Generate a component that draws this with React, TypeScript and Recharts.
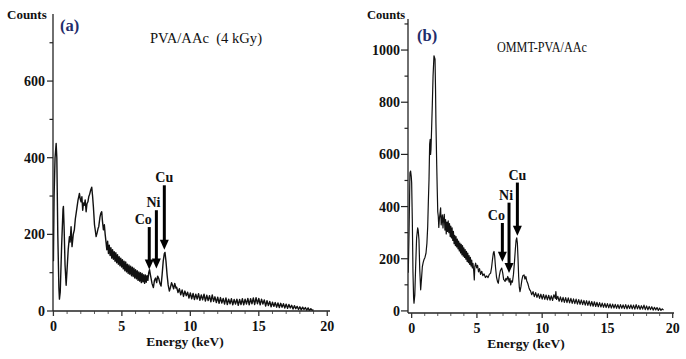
import React from 'react';
import { LineChart, Line, XAxis, YAxis, ReferenceLine } from 'recharts';

// Panel (a): PVA/AAc (4 kGy) — [energy keV, counts]
const spectrumA: [number, number][] = [
  [0, 130], [0.05, 300], [0.12, 400], [0.2, 437], [0.25, 400], [0.32, 200], [0.4, 60], [0.44, 31], [0.5, 50],
  [0.6, 170], [0.7, 265], [0.73, 273], [0.78, 220], [0.85, 120], [0.93, 67], [1.0, 110], [1.08, 160],
  [1.17, 194], [1.22, 180], [1.29, 220], [1.36, 168], [1.45, 200], [1.53, 212], [1.6, 240], [1.66, 255],
  [1.72, 270], [1.8, 290], [1.86, 300], [1.9, 307], [1.96, 292], [2.02, 285], [2.08, 298], [2.14, 263],
  [2.2, 282], [2.26, 276], [2.32, 290], [2.39, 259], [2.45, 280], [2.52, 285], [2.58, 298], [2.65, 305],
  [2.72, 315], [2.8, 323], [2.86, 300], [2.92, 272], [3.0, 225], [3.06, 210], [3.12, 194], [3.2, 205],
  [3.26, 215], [3.31, 220], [3.4, 245], [3.46, 255], [3.53, 259], [3.58, 235], [3.65, 212], [3.72, 225],
  [3.78, 200], [3.85, 177], [3.9, 160], [3.96, 182], [4.02, 150], [4.08, 172], [4.14, 145], [4.2, 165],
  [4.26, 138], [4.32, 160], [4.38, 135], [4.44, 155], [4.5, 130], [4.56, 152], [4.62, 126], [4.68, 147],
  [4.74, 122], [4.8, 142], [4.86, 118], [4.92, 138], [4.98, 115], [5.04, 134], [5.1, 110], [5.16, 130],
  [5.22, 105], [5.28, 128], [5.34, 102], [5.4, 122], [5.46, 98], [5.52, 120], [5.58, 96], [5.64, 117],
  [5.7, 92], [5.76, 114], [5.82, 90], [5.88, 112], [5.94, 86], [6.0, 108], [6.06, 84], [6.12, 105],
  [6.18, 80], [6.24, 102], [6.3, 78], [6.36, 100], [6.42, 74], [6.48, 98], [6.54, 76], [6.6, 95],
  [6.66, 72], [6.72, 94], [6.78, 75], [6.84, 92], [6.9, 80], [6.96, 100], [7.02, 108], [7.08, 95],
  [7.14, 84], [7.2, 72], [7.3, 61], [7.38, 80], [7.46, 86], [7.54, 74], [7.61, 91], [7.7, 84],
  [7.78, 72], [7.86, 65], [7.94, 95], [8.02, 130], [8.1, 150], [8.15, 153], [8.22, 130], [8.3, 95],
  [8.38, 68], [8.47, 52], [8.55, 62], [8.63, 74], [8.71, 66], [8.78, 58], [8.86, 72], [8.95, 60],
  [9.0, 62], [9.1, 48], [9.2, 58], [9.3, 42], [9.4, 55], [9.5, 38], [9.6, 52], [9.7, 40], [9.8, 49],
  [9.9, 34], [10.0, 47], [10.1, 32], [10.2, 46], [10.3, 30], [10.4, 44], [10.5, 31], [10.6, 45],
  [10.7, 28], [10.8, 42], [10.9, 29], [11.0, 44], [11.1, 26], [11.2, 41], [11.3, 27], [11.4, 40],
  [11.5, 24], [11.6, 42], [11.7, 25], [11.8, 37], [11.9, 22], [12.0, 36], [12.1, 20], [12.2, 35],
  [12.3, 21], [12.4, 33], [12.5, 18], [12.6, 34], [12.7, 17], [12.8, 31], [12.9, 19], [13.0, 32],
  [13.1, 16], [13.2, 30], [13.3, 18], [13.4, 31], [13.5, 15], [13.6, 30], [13.7, 17], [13.8, 32],
  [13.9, 16], [14.0, 31], [14.1, 18], [14.2, 33], [14.3, 16], [14.4, 32], [14.5, 19], [14.6, 34],
  [14.7, 17], [14.8, 35], [14.9, 19], [15.0, 33], [15.1, 16], [15.2, 31], [15.3, 18], [15.4, 29],
  [15.5, 13], [15.6, 27], [15.7, 14], [15.8, 25], [15.9, 11], [16.0, 23], [16.1, 12], [16.2, 22],
  [16.3, 10], [16.4, 21], [16.5, 9], [16.6, 20], [16.7, 10], [16.8, 19], [16.9, 8], [17.0, 18],
  [17.1, 7], [17.2, 17], [17.3, 8], [17.4, 15], [17.5, 5], [17.6, 14], [17.7, 6], [17.8, 12],
  [17.9, 4], [18.0, 11], [18.1, 3], [18.2, 10], [18.3, 4], [18.4, 9], [18.5, 2], [18.6, 8],
  [18.7, 1], [18.8, 6], [18.9, 2], [19.0, 3],
];

// Panel (b): OMMT-PVA/AAc — [energy keV, counts]
const spectrumB: [number, number][] = [
  [-0.26, 146], [-0.2, 300], [-0.13, 530], [-0.08, 536], [-0.03, 515], [0.0, 491], [0.05, 350], [0.1, 150],
  [0.15, 50], [0.18, 30], [0.24, 60], [0.3, 160], [0.38, 280], [0.46, 318], [0.5, 310], [0.56, 273],
  [0.62, 160], [0.69, 81], [0.75, 120], [0.82, 170], [0.88, 185], [0.94, 196], [1.02, 205], [1.1, 222],
  [1.17, 260], [1.23, 324], [1.28, 420], [1.33, 504], [1.38, 640], [1.42, 658], [1.45, 600], [1.48, 619],
  [1.53, 700], [1.58, 786], [1.64, 900], [1.71, 978], [1.75, 972], [1.79, 965], [1.83, 850], [1.86, 722],
  [1.92, 560], [1.96, 465], [2.0, 380], [2.04, 363], [2.08, 320], [2.12, 350], [2.17, 372], [2.22, 395],
  [2.26, 330], [2.3, 345], [2.35, 368], [2.4, 318], [2.45, 355], [2.5, 370], [2.55, 310], [2.6, 350],
  [2.65, 295], [2.7, 340], [2.75, 305], [2.8, 345], [2.85, 300], [2.9, 335], [2.95, 285], [3.0, 325],
  [3.05, 280], [3.1, 318], [3.15, 270], [3.2, 305], [3.25, 258], [3.3, 290], [3.35, 250], [3.4, 285],
  [3.45, 245], [3.5, 275], [3.55, 238], [3.6, 268], [3.65, 230], [3.7, 260], [3.75, 222], [3.8, 255],
  [3.85, 215], [3.9, 250], [3.95, 210], [4.0, 242], [4.05, 205], [4.1, 235], [4.15, 198], [4.2, 228],
  [4.25, 190], [4.3, 222], [4.35, 185], [4.4, 212], [4.45, 178], [4.5, 205], [4.55, 172], [4.6, 195],
  [4.65, 165], [4.7, 182], [4.76, 150], [4.8, 119], [4.84, 170], [4.9, 183], [4.98, 165], [5.05, 175],
  [5.12, 150], [5.2, 162], [5.28, 140], [5.37, 152], [5.45, 135], [5.55, 142], [5.65, 128], [5.75, 134],
  [5.85, 128], [5.95, 140], [6.05, 145], [6.12, 165], [6.2, 200], [6.26, 222], [6.31, 228], [6.36, 210],
  [6.42, 170], [6.5, 130], [6.58, 112], [6.64, 106], [6.72, 135], [6.8, 155], [6.9, 164], [6.98, 145],
  [7.05, 120], [7.1, 118], [7.16, 113], [7.22, 125], [7.3, 118], [7.36, 132], [7.41, 126], [7.47, 110],
  [7.53, 125], [7.59, 100], [7.65, 115], [7.72, 110], [7.8, 140], [7.88, 190], [7.95, 240], [8.0, 270],
  [8.05, 280], [8.1, 260], [8.15, 200], [8.2, 130], [8.25, 90], [8.3, 74], [8.38, 95], [8.45, 120],
  [8.52, 135], [8.61, 138], [8.68, 122], [8.75, 132], [8.82, 115], [8.9, 105], [8.98, 90], [9.05, 80],
  [9.1, 78], [9.2, 62], [9.3, 74], [9.4, 55], [9.5, 70], [9.6, 52], [9.7, 66], [9.8, 48], [9.9, 64],
  [10.0, 45], [10.1, 63], [10.2, 44], [10.3, 61], [10.4, 42], [10.5, 60], [10.6, 41], [10.7, 58],
  [10.8, 40], [10.9, 62], [11.0, 48], [11.05, 74], [11.1, 44], [11.2, 56], [11.3, 37], [11.4, 54],
  [11.5, 35], [11.6, 52], [11.7, 33], [11.8, 51], [11.9, 32], [12.0, 50], [12.1, 31], [12.2, 48],
  [12.3, 29], [12.4, 46], [12.5, 28], [12.6, 45], [12.7, 26], [12.8, 43], [12.9, 25], [13.0, 42],
  [13.1, 24], [13.2, 40], [13.3, 22], [13.4, 39], [13.5, 21], [13.6, 38], [13.7, 19], [13.8, 36],
  [13.9, 18], [14.0, 35], [14.1, 17], [14.2, 33], [14.3, 16], [14.4, 32], [14.5, 15], [14.6, 30],
  [14.7, 14], [14.8, 29], [14.9, 13], [15.0, 28], [15.1, 12], [15.2, 27], [15.3, 11], [15.4, 26],
  [15.5, 11], [15.6, 25], [15.7, 10], [15.8, 24], [15.9, 9], [16.0, 24], [16.1, 10], [16.2, 23],
  [16.3, 9], [16.4, 24], [16.5, 8], [16.6, 22], [16.7, 9], [16.8, 23], [16.9, 8], [17.0, 22],
  [17.1, 7], [17.2, 24], [17.3, 8], [17.4, 21], [17.5, 6], [17.6, 20], [17.7, 7], [17.8, 22],
  [17.9, 5], [18.0, 19], [18.1, 4], [18.2, 17], [18.3, 5], [18.4, 16], [18.5, 3], [18.6, 14],
  [18.7, 4], [18.8, 13], [18.9, 2], [19.0, 11], [19.1, 2], [19.2, 8], [19.3, 3],
];

// Element markers: label, energy, arrow tail count, arrow tip count
const markersA = [
  { label: 'Co', e: 7.0, from: 219, to: 108 },
  { label: 'Ni', e: 7.52, from: 263, to: 111 },
  { label: 'Cu', e: 8.1, from: 328, to: 160 },
];
const markersB = [
  { label: 'Co', e: 6.95, from: 337, to: 188 },
  { label: 'Ni', e: 7.46, from: 415, to: 145 },
  { label: 'Cu', e: 8.1, from: 492, to: 288 },
];

const xTicks = [0, 1, 2, 3, 4, 5, 6, 7, 8, 9, 10, 11, 12, 13, 14, 15, 16, 17, 18, 19, 20];
const xLabels = [0, 5, 10, 15, 20];
const yTicksA = [0, 100, 200, 300, 400, 500, 600, 700];
const yLabelsA = [0, 200, 400, 600];
const yTicksB = [0, 100, 200, 300, 400, 500, 600, 700, 800, 900, 1000, 1100];
const yLabelsB = [0, 200, 400, 600, 800, 1000];

const SERIF = '"Liberation Serif", "Times New Roman", serif';

const toRows = (s: [number, number][]) => s.map(([e, c]) => ({ e, c }));

const makeYTick = (labels: number[], majorLen: number, gap: number) => (p: any) => {
  const v = p.payload.value;
  const major = labels.includes(v);
  const len = major ? majorLen : 3.5;
  return (
    <g>
      <line x1={p.x - len} y1={p.y} x2={p.x} y2={p.y} stroke="#222" strokeWidth={1.2} />
      {major && (
        <text x={p.x - majorLen - gap} y={p.y + 5} textAnchor="end" fontFamily={SERIF} fontWeight="bold" fontSize={14} fill="#111">
          {v}
        </text>
      )}
    </g>
  );
};

const xTick = (p: any) => {
  const v = p.payload.value;
  const major = xLabels.includes(v);
  return (
    <g>
      <line x1={p.x} y1={p.y} x2={p.x} y2={p.y + (major ? 5 : 3)} stroke="#333" strokeWidth={major ? 1.3 : 0.8} />
      {major && (
        <text x={p.x} y={p.y + 20} textAnchor="middle" fontFamily={SERIF} fontWeight="bold" fontSize={14} fill="#111">
          {v}
        </text>
      )}
    </g>
  );
};

const labelShift: Record<string, number> = { Co: -6, Ni: -3, Cu: 0 };

const arrowShape = (label: string) => (p: any) => {
  const { x1, y1, x2, y2 } = p;
  return (
    <g>
      <line x1={x1} y1={y1} x2={x2} y2={y2 - 8} stroke="#000" strokeWidth={3} />
      <polygon points={`${x2 - 4.5},${y2 - 10} ${x2 + 4.5},${y2 - 10} ${x2},${y2}`} fill="#000" />
      <text x={x1 + labelShift[label]} y={y1 - 3} textAnchor="middle" fontFamily={SERIF} fontWeight="bold" fontSize={14} fill="#111">
        {label}
      </text>
    </g>
  );
};

type PanelProps = {
  rows: { e: number; c: number }[];
  markers: { label: string; e: number; from: number; to: number }[];
  width: number;
  margin: { top: number; right: number; bottom: number; left: number };
  xDomain: [number, number];
  yDomain: [number, number];
  yTicks: number[];
  yLabels: number[];
  majorLen: number;
  gap: number;
  stroke: number;
};

const Panel = ({ rows, markers, width, margin, xDomain, yDomain, yTicks, yLabels, majorLen, gap, stroke }: PanelProps) => (
  <LineChart width={width} height={359} data={rows} margin={margin}>
    <XAxis
      dataKey="e"
      type="number"
      domain={xDomain}
      ticks={xTicks}
      allowDataOverflow
      height={30}
      tickSize={0}
      tickMargin={0}
      tickLine={false}
      tick={xTick}
      axisLine={{ stroke: '#222', strokeWidth: 1.3 }}
      interval={0}
    />
    <XAxis
      xAxisId="top"
      orientation="top"
      dataKey="e"
      type="number"
      domain={xDomain}
      allowDataOverflow
      height={0}
      tick={false}
      tickLine={false}
      axisLine={{ stroke: '#222', strokeWidth: 1.6 }}
    />
    <YAxis
      type="number"
      domain={yDomain}
      ticks={yTicks}
      allowDataOverflow
      width={40}
      tickSize={0}
      tickMargin={0}
      tickLine={false}
      tick={makeYTick(yLabels, majorLen, gap)}
      axisLine={{ stroke: '#222', strokeWidth: 1.3 }}
      interval={0}
    />
    <YAxis
      yAxisId="right"
      orientation="right"
      type="number"
      domain={yDomain}
      width={0}
      tick={false}
      tickLine={false}
      axisLine={{ stroke: '#555', strokeWidth: 1.2 }}
    />
    <Line
      type="linear"
      dataKey="c"
      stroke="#111"
      strokeWidth={stroke}
      strokeLinejoin="round"
      dot={false}
      isAnimationActive={false}
    />
    {markers.map((m) => (
      <ReferenceLine
        key={m.label}
        segment={[{ x: m.e, y: m.from }, { x: m.e, y: m.to }]}
        stroke="#000"
        shape={arrowShape(m.label)}
        ifOverflow="visible"
      />
    ))}
  </LineChart>
);

export default function App() {
  return (
    <div style={{ position: 'absolute', left: 0, top: 0, width: 686, height: 359, background: '#fff', overflow: 'hidden' }}>
      <div style={{ position: 'absolute', left: 0, top: 0 }}>
        <Panel
          rows={toRows(spectrumA)}
          markers={markersA}
          width={340}
          margin={{ top: 14, right: 10, bottom: 18, left: 13 }}
          xDomain={[-0.03, 20.2]}
          yDomain={[0, 775]}
          yTicks={yTicksA}
          yLabels={yLabelsA}
          majorLen={6}
          gap={2}
          stroke={1.4}
        />
      </div>
      <div style={{ position: 'absolute', left: 340, top: 0 }}>
        <Panel
          rows={toRows(spectrumB)}
          markers={markersB}
          width={346}
          margin={{ top: 19, right: 12, bottom: 16, left: 28 }}
          xDomain={[-0.28, 20.1]}
          yDomain={[-8, 1119]}
          yTicks={yTicksB}
          yLabels={yLabelsB}
          majorLen={7}
          gap={1}
          stroke={1.2}
        />
      </div>
      <svg width={686} height={359} style={{ position: 'absolute', left: 0, top: 0, pointerEvents: 'none' }}>
        <text x={7} y={18.5} fontFamily={SERIF} fontWeight="bold" fontSize={13} fill="#111">Counts</text>
        <text x={367} y={18.5} fontFamily={SERIF} fontWeight="bold" fontSize={12.5} fill="#111">Counts</text>
        <text x={60} y={31} fontFamily={SERIF} fontWeight="bold" fontSize={16.5} fill="#1f2d6b">(a)</text>
        <text x={417} y={41} fontFamily={SERIF} fontWeight="bold" fontSize={16.5} fill="#1f2d6b">(b)</text>
        <text x={150} y={43} fontFamily={SERIF} fontSize={15} fill="#111" textLength={112} lengthAdjust="spacingAndGlyphs" style={{ whiteSpace: 'pre' }}>PVA/AAc  (4 kGy)</text>
        <text x={497} y={52} fontFamily={SERIF} fontSize={15} fill="#111" textLength={90} lengthAdjust="spacingAndGlyphs">OMMT-PVA/AAc</text>
        <text x={185} y={346} textAnchor="middle" fontFamily={SERIF} fontWeight="bold" fontSize={13.5} fill="#111">Energy (keV)</text>
        <text x={526} y={348} textAnchor="middle" fontFamily={SERIF} fontWeight="bold" fontSize={13.5} fill="#111">Energy (keV)</text>
      </svg>
    </div>
  );
}
